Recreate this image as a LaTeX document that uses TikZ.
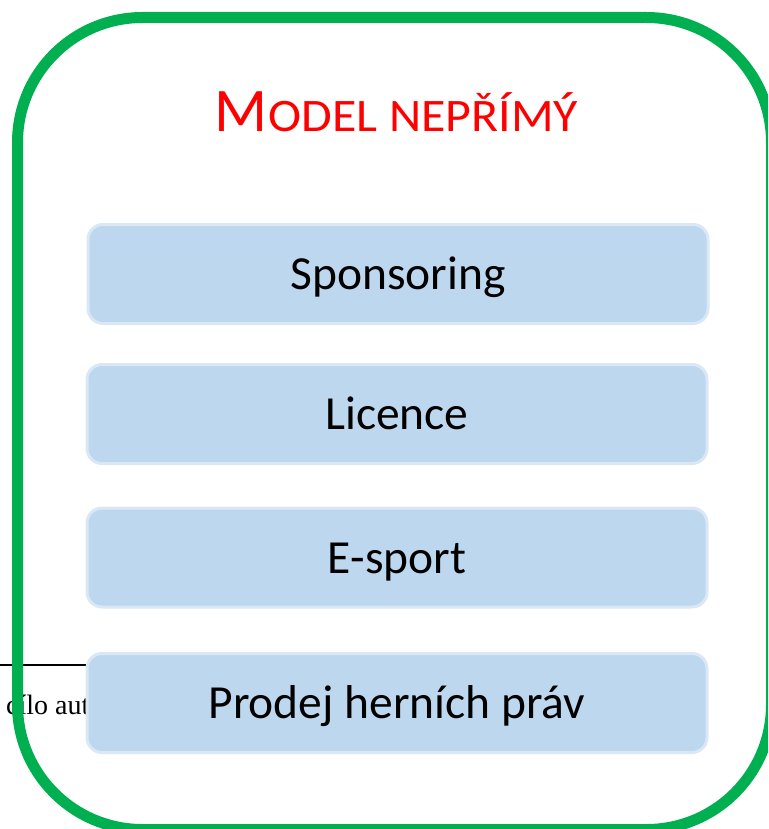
\documentclass[tikz,border=0pt]{standalone}
\usepackage{graphicx}
\usepackage{fontspec}
\newfontfamily\carlito{Carlito}
\newfontfamily\serifnote{Liberation Serif}
\definecolor{frameGreen}{HTML}{00B050}
\definecolor{boxFill}{HTML}{BDD7EE}
\definecolor{boxEdge}{HTML}{DAE7F5}
\definecolor{titleRed}{HTML}{FF0000}
\tikzset{
  itembox/.style={draw=boxEdge, line width=3pt, fill=boxFill, rounded corners=15pt,
    minimum width=620pt, minimum height=99pt, inner sep=0pt,
    text height=31pt, text depth=0pt,
    font=\carlito\fontsize{47.5}{47.5}\selectfont, text=black},
  frameline/.style={draw=frameGreen, line width=11pt, rounded corners=125pt}
}
\begin{document}
\begin{tikzpicture}[x=1pt,y=-1pt]
\useasboundingbox (0,0) rectangle (768,829);
\begin{scope}
\clip (0,0) rectangle (768,829);
% footnote remnants behind the frame
\coordinate (ruleA) at (0,665);
\coordinate (ruleB) at (150,665);
\draw[line width=1.2pt, black] (ruleA) -- (ruleB);
\node[anchor=base west, inner sep=0pt, font=\serifnote\fontsize{28}{28}\selectfont] (note) at (6,714) {cílo aut};
% green frame
\coordinate (frameNW) at (17.5,17.5);
\coordinate (frameSE) at (771.5,829.5);
\draw[frameline] (frameNW) rectangle (frameSE);
\end{scope}
% title
\node[anchor=base, inner sep=0pt, text=titleRed, font=\carlito] (title) at (396.5,131.7)
  {{\fontsize{62}{62}\selectfont M}\hspace{1pt}\scalebox{1.07}[1]{\fontsize{46.6}{46.6}\selectfont ODEL NEPŘÍMÝ}};
% items
\node[itembox] (b1) at (398,274) {Sponsoring};
\node[itembox] (b2) at (397,414) {Licence};
\node[itembox] (b3) at (397,557.5) {E-sport};
\node[itembox] (b4) at (397,703) {Prodej herních práv};
\end{tikzpicture}
\end{document}
